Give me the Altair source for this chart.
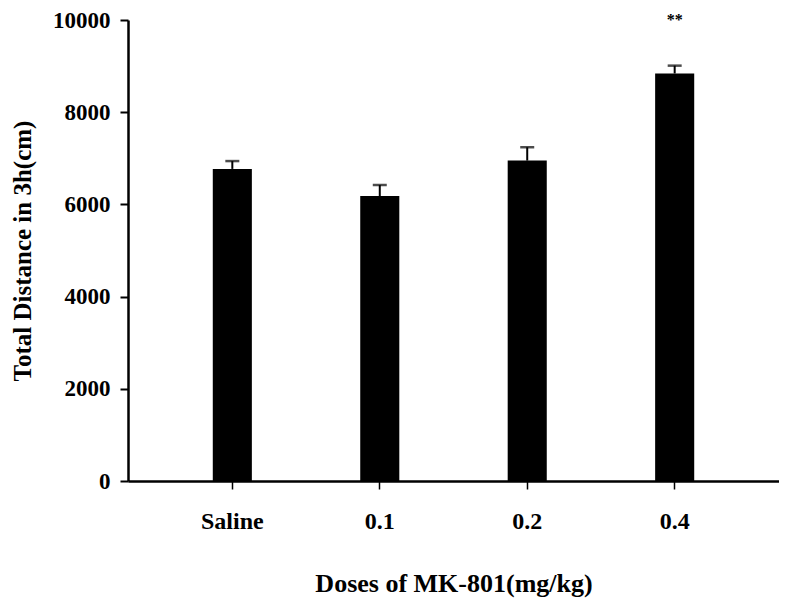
import altair as alt
import pandas as pd

categories = ["Saline", "0.1", "0.2", "0.4"]
means = [6770, 6180, 6950, 8840]
errors = [170, 240, 290, 170]
marks = ["", "", "", "**"]

df = pd.DataFrame({
    "dose": categories,
    "mean": means,
    "top": [m + e for m, e in zip(means, errors)],
    "mark": marks,
    "markpos": [10000] * len(categories),
})

FONT = "Liberation Serif"

x = alt.X(
    "dose:N",
    sort=categories,
    scale=alt.Scale(paddingInner=0.735, paddingOuter=0.575),
    axis=alt.Axis(
        title="Doses of MK-801(mg/kg)",
        labelAngle=0,
        labelFont=FONT, labelFontWeight="bold", labelFontSize=24, labelColor="black",
        labelPadding=20, labelBaseline="top",
        tickSize=8, tickWidth=1.5, tickColor="black",
        domainColor="black", domainWidth=2.5,
        titleFont=FONT, titleFontWeight="bold", titleFontSize=26, titleColor="black",
        titleY=102, titleBaseline="middle",
        grid=False,
    ),
)

y_axis = alt.Axis(
    title="Total Distance in 3h(cm)",
    values=[0, 2000, 4000, 6000, 8000, 10000],
    format="d",
    labelFont=FONT, labelFontWeight="bold", labelFontSize=23, labelColor="black",
    labelPadding=10,
    tickSize=8, tickWidth=2, tickColor="black",
    domainColor="black", domainWidth=2.5,
    titleFont=FONT, titleFontWeight="bold", titleFontSize=25, titleColor="black",
    titleX=-106, titleBaseline="middle",
    grid=False,
)

base = alt.Chart(df)

bars = base.mark_bar(color="black").encode(
    x=x,
    y=alt.Y("mean:Q", scale=alt.Scale(domain=[0, 10000], nice=False), axis=y_axis),
)

rules = base.mark_rule(color="black", strokeWidth=2).encode(
    x=alt.X("dose:N", sort=categories),
    y="mean:Q",
    y2="top:Q",
)

caps = base.mark_tick(color="black", thickness=2.5, size=14, orient="horizontal").encode(
    x=alt.X("dose:N", sort=categories),
    y="top:Q",
)

stars = base.mark_text(
    font=FONT, fontWeight="bold", fontSize=16, color="black", baseline="middle", dy=0
).encode(
    x=alt.X("dose:N", sort=categories),
    y="markpos:Q",
    text="mark:N",
)

chart = (
    alt.layer(bars, rules, caps, stars)
    .properties(
        width=651,
        height=461,
        padding={"left": 120, "top": 12, "right": 0, "bottom": 119},
        autosize=alt.AutoSizeParams(type="none"),
        background="white",
    )
    .configure_view(stroke=None)
)

chart.save("out.html", embed_options={"renderer": "svg", "actions": False})
